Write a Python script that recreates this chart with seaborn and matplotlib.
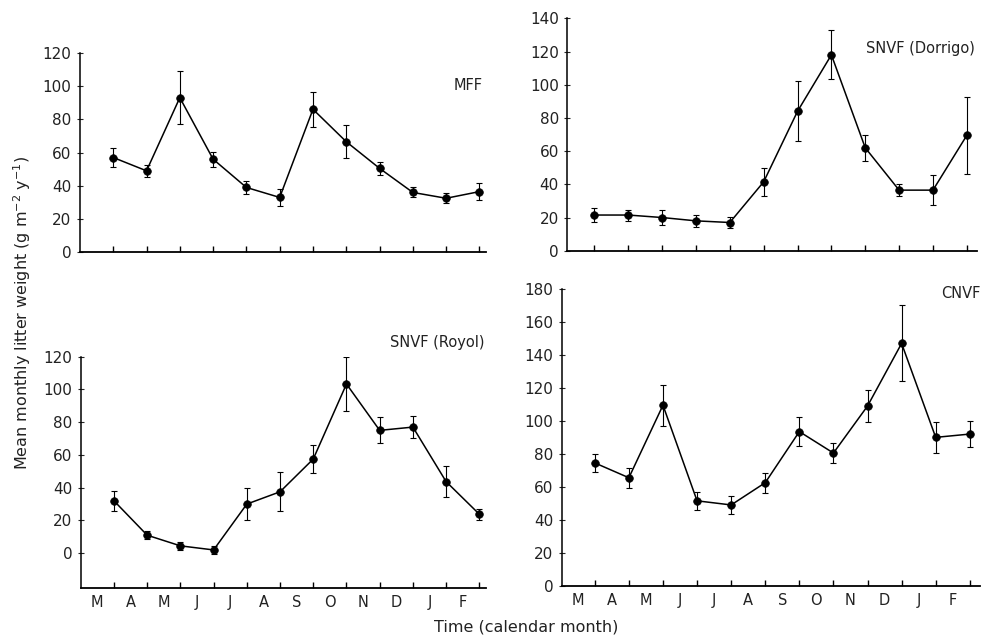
import numpy as np
import pandas as pd
import matplotlib
matplotlib.use('Agg')
import matplotlib.pyplot as plt
import seaborn as sns

MONTHS = ["M", "A", "M", "J", "J", "A", "S", "O", "N", "D", "J", "F"]
POS = list(range(1, 13))

mff_mean = [57, 49, 93, 56, 39, 33, 86, 66.5, 50.5, 36, 32.5, 36.5]
mff_err = [6, 3.5, 16, 4.5, 4, 5, 10.5, 10, 4, 3, 3, 5]

dorrigo_mean = [21.5, 21.5, 20, 18, 17, 41.5, 84, 118, 62, 36.5, 36.5, 69.5]
dorrigo_err = [4, 3.3, 4.5, 3.5, 3.3, 8.5, 18, 14.7, 7.7, 3.5, 9, 23]

royol_mean = [32, 11, 4.5, 2, 30, 37.5, 57.5, 103.3, 75, 77, 43.7, 23.8]
royol_err = [6, 2.5, 2.5, 2.7, 10, 12, 8.3, 16.5, 8, 6.7, 9.5, 3.3]

cnvf_mean = [74.5, 65.5, 109.5, 51.5, 49, 62.5, 93.5, 80.5, 109, 147, 90, 92]
cnvf_err = [5.5, 6, 12.5, 5.5, 5.5, 6, 9, 6.3, 9.5, 23, 9.6, 7.7]

sns.set_style('ticks')
plt.rcParams['font.family'] = ['DejaVu Sans']

fig = plt.figure(figsize=(9.81, 6.37), dpi=100)

# name, data, err, axes rect, xlim, ylim, yticks max, label pos, month labels
panels = [
    ("MFF", mff_mean, mff_err, [0.0815, 0.6039, 0.414, 0.3133], (0, 12.2), (0, 120), 120,
     (483, 85), False),
    ("SNVF (Dorrigo)", dorrigo_mean, dorrigo_err, [0.5783, 0.6064, 0.4176, 0.3648], (0.2, 12.3), (0, 140), 140,
     (975, 48), False),
    ("SNVF (Royol)", royol_mean, royol_err, [0.0823, 0.0765, 0.4131, 0.3636], (0, 12.2), (-21.4, 120), 120,
     (485, 343), True),
    ("CNVF", cnvf_mean, cnvf_err, [0.5726, 0.0805, 0.4264, 0.4658], (0.03, 12.3), (0, 180), 180,
     (980, 293), True),
]

for name, vals, err, rect, xl, yl, ymax, (lx, ly), show_months in panels:
    ax = fig.add_axes(rect)
    df = pd.DataFrame({'month': POS, 'weight': vals})
    sns.lineplot(data=df, x='month', y='weight', ax=ax, color='black', lw=1.1,
                 marker='o', markersize=5.5, markeredgecolor='black', markeredgewidth=0.5)
    ax.errorbar(POS, vals, yerr=err, fmt='none', ecolor='black', elinewidth=0.8, capsize=2.5,
                capthick=0.8)
    ax.set_xlim(*xl)
    ax.set_ylim(*yl)
    ax.set_yticks(np.arange(0, ymax + 1, 20))
    ax.set_xticks(POS)
    ax.set_xticklabels([])
    if show_months:
        ax.set_xticks(np.arange(0.5, 12, 1), minor=True)
        ax.set_xticklabels(MONTHS, minor=True, fontsize=10.5, color='#222222')
        ax.tick_params(axis='x', which='minor', length=0, pad=5)
    ax.tick_params(axis='x', which='major', direction='in', length=4, width=1, color='black')
    ax.tick_params(axis='y', direction='inout', length=4, width=0.8, labelsize=11,
                   labelcolor='#222222', pad=4)
    ax.set_xlabel('')
    ax.set_ylabel('')
    for s in ['top', 'right']:
        ax.spines[s].set_visible(False)
    ax.spines['left'].set_bounds(yl[0], ymax)
    ax.spines['left'].set_linewidth(1.1)
    ax.spines['bottom'].set_linewidth(1.3)
    ax.spines['left'].set_color('black')
    ax.spines['bottom'].set_color('black')
    fig.text(lx / 981, 1 - ly / 637, name, ha='right', va='center', fontsize=10.5, color='#222222')

fig.text(22 / 981, 1 - 313 / 637, r'Mean monthly litter weight (g m$^{-2}$ y$^{-1}$)',
         rotation=90, ha='center', va='center', fontsize=11.5, color='#222222')
fig.text(526 / 981, 1 - 627 / 637, 'Time (calendar month)', ha='center', va='center',
         fontsize=11.5, color='#222222')

fig.savefig('out.png', dpi=100, facecolor='white')
